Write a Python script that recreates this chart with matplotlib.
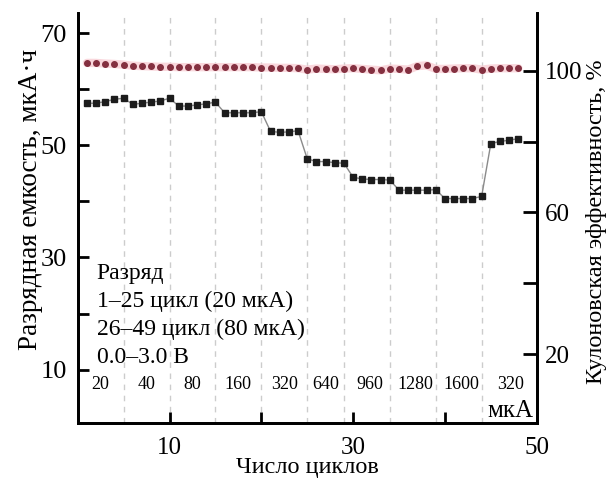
import numpy as np
import matplotlib
matplotlib.use('Agg')
import matplotlib.pyplot as plt

plt.rcParams['font.family'] = ['Liberation Serif', 'DejaVu Serif']

#---------------------- DATA
cycles = np.arange(1, 49)

capacity = [57.5, 57.5, 57.8, 58.2, 58.4,
            57.3, 57.5, 57.7, 57.9, 58.4,
            57.0, 57.0, 57.2, 57.4, 57.7,
            55.8, 55.8, 55.8, 55.8, 56.0,
            52.5, 52.3, 52.4, 52.6,
            47.6,
            47.1, 47.1, 46.9, 46.8,
            44.3, 44.0, 43.9, 43.9, 43.8,
            42.0, 42.0, 42.0, 42.0, 42.1,
            40.5, 40.5, 40.5, 40.5, 40.9,
            50.3, 50.7, 50.9, 51.2]

efficiency = [102.2, 102.2, 102.0, 101.9, 101.7,
              101.4, 101.3, 101.2, 101.1, 101.1,
              101.0, 101.0, 101.0, 101.0, 101.0,
              101.0, 101.0, 101.0, 101.0, 100.9,
              100.9, 100.8, 100.8, 100.7,
              100.3,
              100.6, 100.5, 100.4, 100.6,
              100.7, 100.5, 100.3, 100.1, 100.6,
              100.5, 100.3, 101.3, 101.5, 100.5,
              100.5, 100.6, 100.7, 100.7, 100.3,
              100.6, 100.7, 100.7, 100.7]

boundaries = [5, 10, 15, 20, 25, 29, 34, 39, 44]
seg_x      = [2.5, 7.5, 12.5, 17.5, 22.5, 27, 31.8, 36.8, 41.8, 47.2]
currents   = ['20', '40', '80', '160', '320', '640', '960', '1280', '1600', '320']

##------------------------PLOTTING
fig = plt.figure(figsize=(6.12, 4.79), dpi=100)
ax = fig.add_axes([0.127, 0.117, 0.75, 0.856])
ax2 = ax.twinx()

for b in boundaries:
    ax.axvline(b, color='#cccccc', linestyle=(0, (4, 4)), linewidth=1.0, zorder=0)

ax.plot(cycles, capacity, color='#8a8a8a', linewidth=1.0, zorder=2)
ax.plot(cycles, capacity, linestyle='none', marker='s', markersize=4.2,
        color='#1c1c1c', zorder=3)

ax2.plot(cycles, efficiency, color='#f8cdd4', linewidth=6, alpha=0.8, zorder=1,
         solid_capstyle='round')
ax2.plot(cycles, efficiency, linestyle='none', marker='o', markersize=4.0,
         color='#843040', zorder=3)

for xs, lab in zip(seg_x, currents):
    ax.text(xs, 7.3, lab, fontsize=13, ha='center', va='center')
ax.text(49.6, 2.6, 'мкА', fontsize=18, ha='right', va='center')

ax.text(0.041, 0.146, 'Разряд\n1–25 цикл (20 мкА)\n26–49 цикл (80 мкА)\n0.0–3.0 В',
        transform=ax.transAxes, fontsize=17, ha='left', va='baseline',
        linespacing=1.43)

ax.set_xlim(0, 50)
ax.set_ylim(0.5, 73.6)
ax2.set_ylim(0.6, 116.3)

ax.set_xticks([10, 20, 30, 40, 50])
ax.set_xticklabels(['10', '', '30', '', '50'])
ax.set_yticks([10, 20, 30, 40, 50, 60, 70])
ax.set_yticklabels(['10', '', '30', '', '50', '', '70'])
ax2.set_yticks([20, 40, 60, 80, 100])
ax2.set_yticklabels(['20', '', '60', '', '100'])

for a in (ax, ax2):
    a.spines['top'].set_visible(False)
    for s in ('left', 'right', 'bottom'):
        a.spines[s].set_linewidth(2)
ax.tick_params(axis='y', direction='in', length=8, width=2, labelsize=19, pad=8)
ax.tick_params(axis='x', direction='in', length=8, width=2, labelsize=18, pad=10)
ax2.tick_params(axis='y', direction='in', length=10, width=2, labelsize=18, pad=6)

ax.set_xlabel('Число циклов', fontsize=17.5, labelpad=-1)
ax.set_ylabel('Разрядная емкость, мкА·ч', fontsize=19.5)
ax.yaxis.set_label_coords(-0.076, 0.545)
ax2.set_ylabel('Кулоновская эффективность, %', fontsize=17.5)
ax2.yaxis.set_label_coords(1.107, 0.49)

fig.savefig('out.png', dpi=100)
